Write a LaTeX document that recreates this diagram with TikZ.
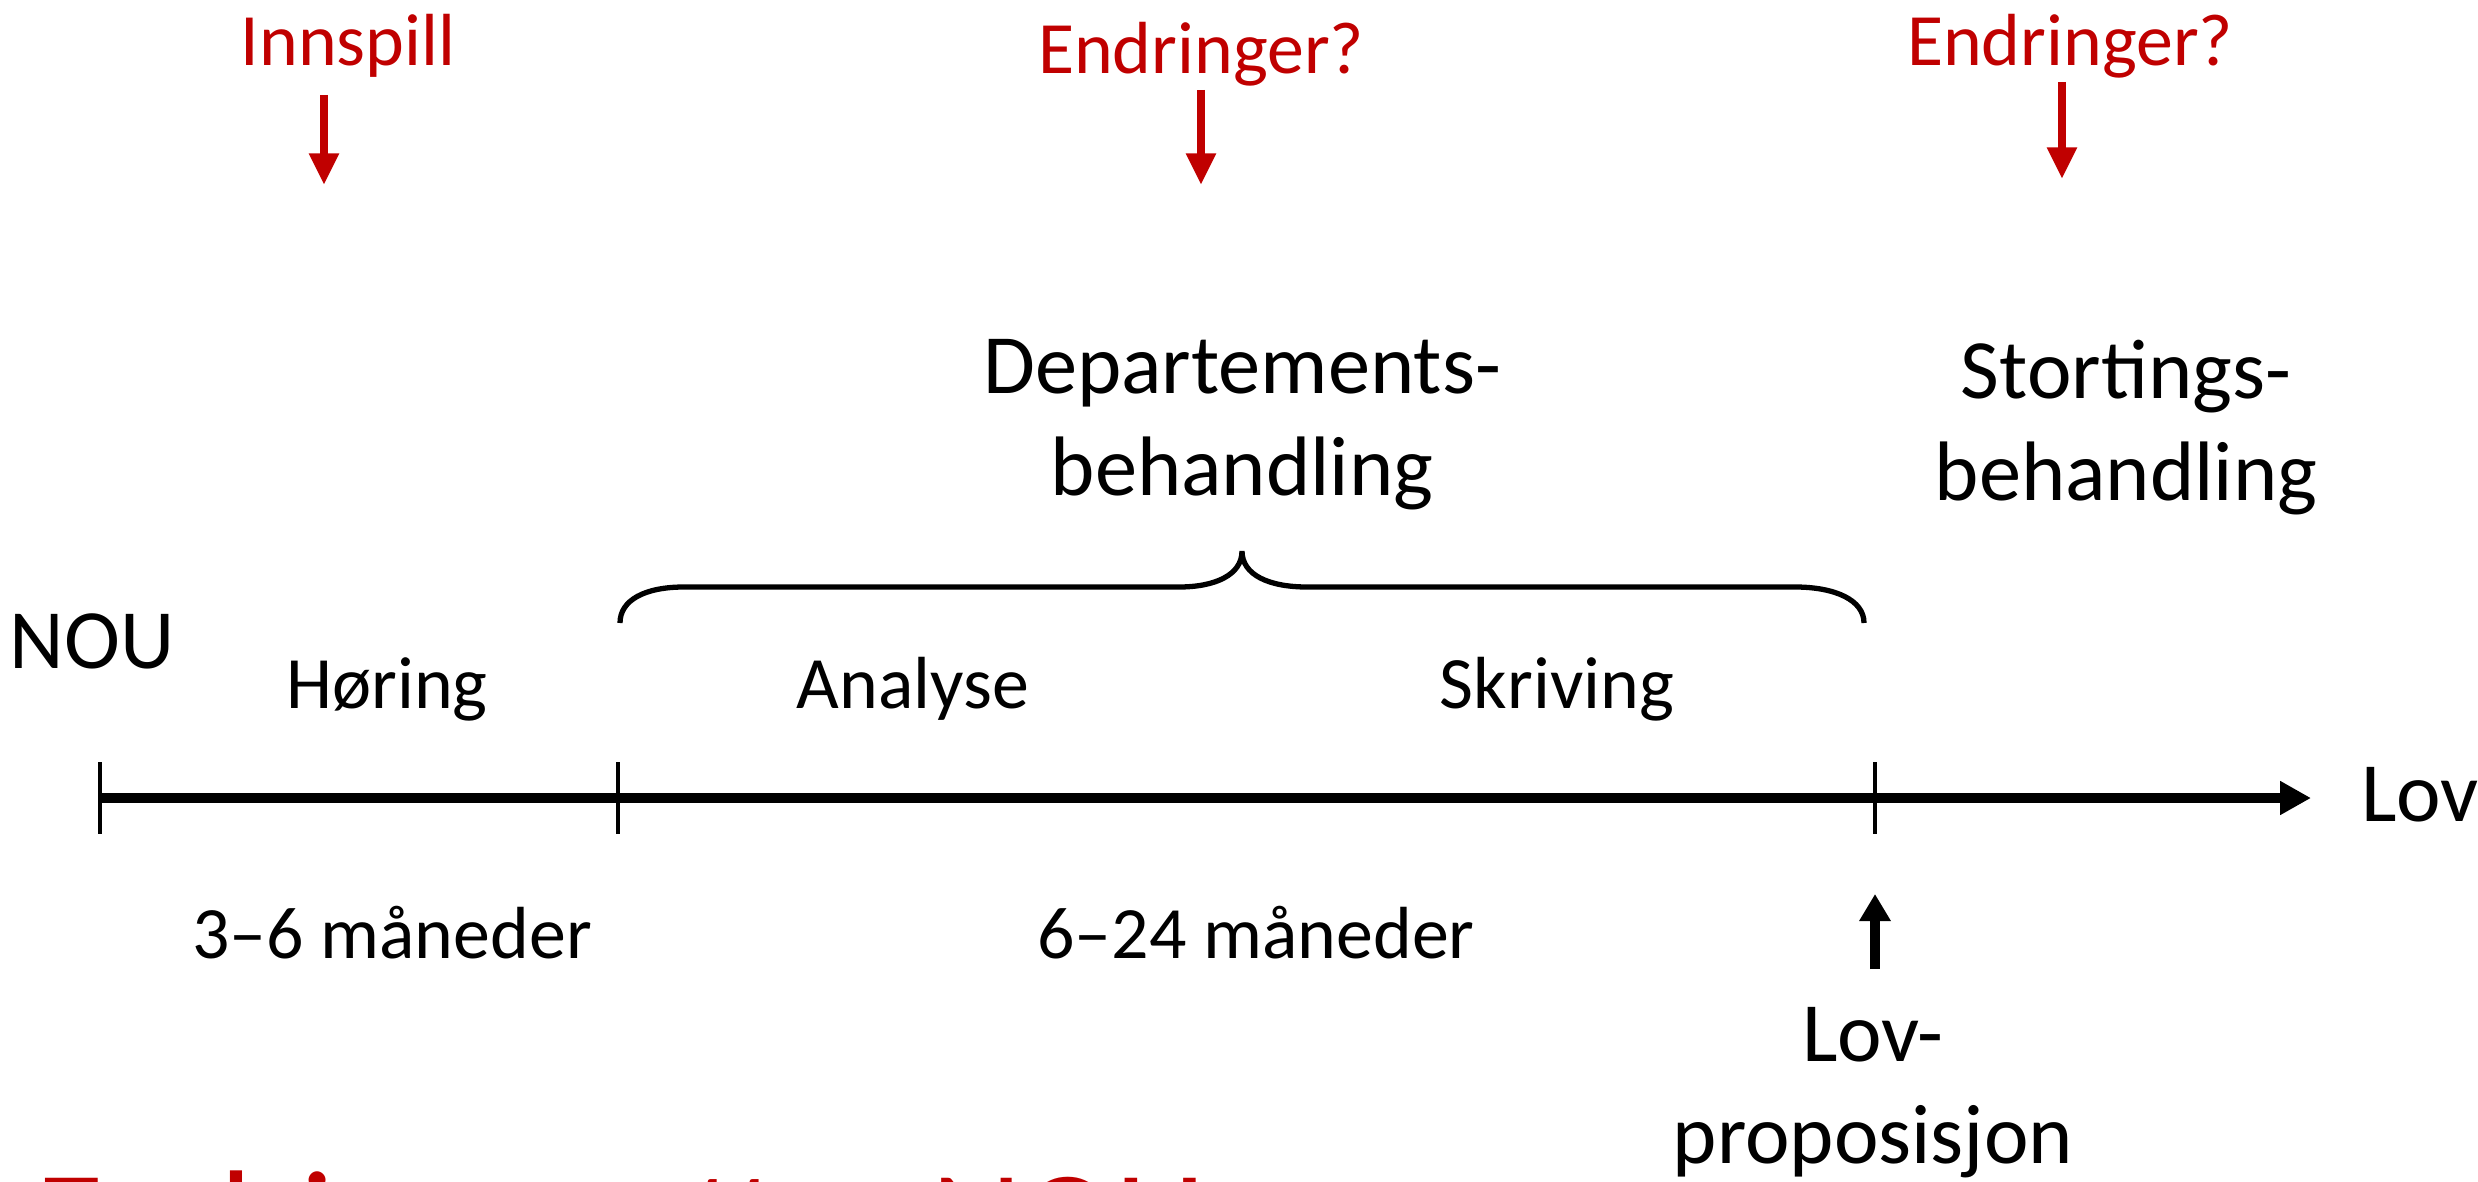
\documentclass[tikz,border=0pt]{standalone}
\usepackage{fontspec}
\setmainfont{Carlito}
\usetikzlibrary{arrows.meta, positioning}
\definecolor{nored}{HTML}{C00000}
\tikzset{
  lbl/.style = {anchor=base, inner sep=0pt, font=\fontsize{21}{25}\selectfont},
  big/.style = {anchor=base, inner sep=0pt, align=center, font=\fontsize{24}{28.8}\selectfont},
  note/.style = {lbl, text=nored},
  tittel/.style = {anchor=base west, inner sep=0pt, text=nored, font=\fontsize{40}{48}\selectfont},
  akse/.style = {line width=3.1pt, -{Triangle[length=8.8pt, width=9.1pt]}},
  tick/.style = {line width=0.9pt},
  rodpil/.style = {nored, line width=2.3pt, -{Triangle[length=9pt, width=8pt]}},
  opppil/.style = {line width=2.6pt, -{Triangle[length=7.7pt, width=8.5pt]}},
  klamme/.style = {line width=1.5pt}
}
\begin{document}
\begin{tikzpicture}[x=0.01cm, y=-0.01cm]
\useasboundingbox (0,0) rectangle (2478,1182);
\clip (0,0) rectangle (2478,1182);

% tidslinje
\coordinate (t0) at (100,798);
\coordinate (t1) at (618,798);
\coordinate (t2) at (1875,798);
\coordinate (tend) at (2311,798);
\draw[akse] (t0) -- (tend);
\foreach \t in {t0,t1,t2}
  \draw[tick] (\t) ++(0,-36) -- ++(0,72);

\node[big] (nou) at (92,668) {NOU};
\node[big] (lov) at (2420,821) {Lov};

% faser over linja
\node[lbl] (horing) at (387,708) {Høring};
\node[lbl] (analyse) at (913,708) {Analyse};
\node[lbl] (skriving) at (1557,708) {Skriving};

% varighet under linja
\node[lbl] (kort) at (392,958) {3–6 måneder};
\node[lbl] (lang) at (1256,958) {6–24 måneder};

% klamme over departementsbehandlingen
\draw[klamme] (620,623) .. controls (620,600) and (645,587) .. (684,587)
  -- (1179,587) .. controls (1215,587) and (1242,575) .. (1242,551)
  .. controls (1242,575) and (1269,587) .. (1307,587)
  -- (1795,587) .. controls (1835,587) and (1864,600) .. (1864,623);

% (base = siste linje)
\node[big] (dep) at (1242,495) {Departements-\\behandling};
\node[big] (sto) at (2126,500) {Stortings-\\behandling};

% lovproposisjon
\node[big] (lovprop) at (1873,1163) {Lov-\\proposisjon};
\coordinate (prop-fra) at (1875,969);
\coordinate (prop-tip) at (1875,894);
\draw[opppil] (prop-fra) -- (prop-tip);

% innspill og endringer
\node[note] (innspill) at (348,66) {Innspill};
\node[note] (endr1) at (1201,74) {Endringer?};
\node[note] (endr2) at (2070,66) {Endringer?};
\coordinate (innspill-fra) at (324,95);
\coordinate (innspill-tip) at (324,185);
\coordinate (endr1-fra) at (1201,90);
\coordinate (endr1-tip) at (1201,185);
\coordinate (endr2-fra) at (2062,82);
\coordinate (endr2-tip) at (2062,179);
\draw[rodpil] (innspill-fra) -- (innspill-tip);
\draw[rodpil] (endr1-fra) -- (endr1-tip);
\draw[rodpil] (endr2-fra) -- (endr2-tip);

% tittel, skaret av nederst
\node[tittel] (tittel) at (35,1268) {Endringer etter NOU};
\end{tikzpicture}
\end{document}
